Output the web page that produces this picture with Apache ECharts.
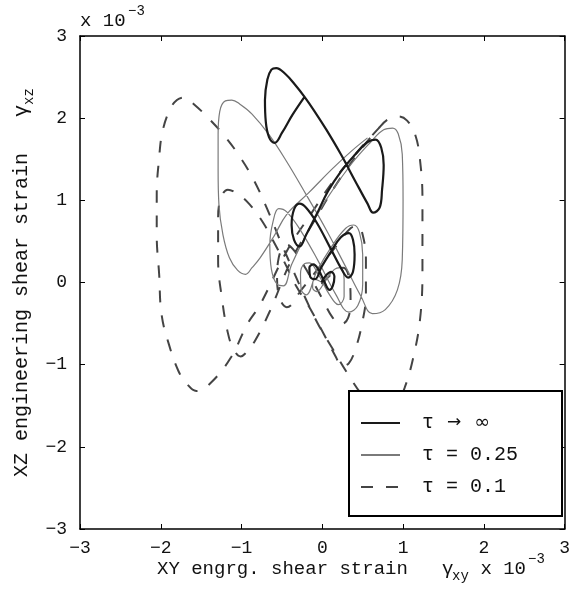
<!DOCTYPE html>
<html><head><meta charset="utf-8">
<script src="https://cdn.jsdelivr.net/npm/echarts@6/dist/echarts.min.js"></script>
<style>html,body{margin:0;padding:0;background:#fff}#c{width:573px;height:591px}</style>
</head><body><div id="c"></div>
<script>
// ---- data (units of 10^-3) ----
const seriesNames = ['τ → ∞', 'τ = 0.25', 'τ = 0.1'];
const axisTicks = [-3, -2, -1, 0, 1, 2, 3];

const infX = [-0.22,-0.37,-0.50,-0.59,-0.66,-0.70,-0.71,-0.68,-0.63,-0.57,-0.46,-0.34,-0.22,-0.10,0.05,0.23,0.41,0.56,0.63,0.71,0.74,0.76,0.73,0.66,0.56,0.41,0.23,0.07,-0.07,-0.20,-0.28,-0.35,-0.38,-0.35,-0.28,-0.20,-0.07,0.11,0.24,0.32,0.38,0.40,0.38,0.33,0.23,0.11,-0.01,-0.09,-0.15,-0.16,-0.11,-0.05,0.02,0.09,0.13,0.15,0.11,0.05,-0.01];
const infY = [2.26,2.04,1.82,1.70,1.77,1.96,2.22,2.47,2.59,2.61,2.54,2.41,2.26,2.09,1.86,1.56,1.23,0.96,0.85,0.91,1.13,1.43,1.64,1.74,1.71,1.56,1.35,1.11,0.83,0.58,0.44,0.52,0.70,0.89,0.96,0.91,0.73,0.40,0.16,0.06,0.13,0.34,0.52,0.60,0.55,0.38,0.19,0.04,0.07,0.18,0.22,0.16,0.02,-0.09,-0.04,0.07,0.13,0.09,0.00];

const q25X = [0.56,0.35,0.11,-0.17,-0.44,-0.60,-0.77,-0.87,-0.95,-1.05,-1.15,-1.23,-1.28,-1.29,-1.29,-1.27,-1.20,-1.12,-1.02,-0.87,-0.66,-0.44,-0.20,0.05,0.29,0.48,0.62,0.78,0.93,0.99,1.00,0.99,0.94,0.87,0.76,0.60,0.35,0.05,-0.20,-0.38,-0.48,-0.56,-0.63,-0.65,-0.61,-0.54,-0.44,-0.26,-0.05,0.17,0.33,0.44,0.50,0.50,0.46,0.39,0.29,0.11,-0.07,-0.20,-0.26,-0.27,-0.22,-0.16,-0.05,0.09,0.20,0.27,0.27,0.22,0.15,0.05,-0.07,-0.12,-0.10,0.00];
const q25Y = [1.76,1.59,1.37,1.09,0.83,0.56,0.30,0.18,0.10,0.15,0.30,0.58,0.95,1.37,1.80,2.08,2.21,2.22,2.17,2.05,1.80,1.47,1.07,0.64,0.19,-0.17,-0.38,-0.33,-0.09,0.28,1.01,1.56,1.81,1.88,1.86,1.71,1.43,1.01,0.58,0.22,-0.04,-0.02,0.16,0.46,0.74,0.90,0.86,0.62,0.26,-0.15,-0.36,-0.28,-0.02,0.34,0.61,0.70,0.66,0.43,0.13,-0.15,-0.09,0.10,0.23,0.24,0.10,-0.15,-0.27,-0.17,0.04,0.18,0.16,0.04,-0.11,-0.06,0.04,0.00];

const q10X = [0.72,0.48,0.17,-0.13,-0.44,-0.77,-0.93,-1.13,-1.38,-1.56,-1.68,-1.78,-1.90,-1.99,-2.02,-2.05,-2.05,-2.02,-1.98,-1.89,-1.80,-1.71,-1.59,-1.39,-1.20,-1.02,-0.85,-0.68,-0.50,-0.34,-0.20,-0.05,0.13,0.32,0.51,0.72,0.90,1.02,1.12,1.21,1.24,1.24,1.21,1.15,1.05,0.94,0.82,0.70,0.48,0.17,-0.13,-0.38,-0.65,-0.84,-0.96,-1.01,-1.10,-1.17,-1.24,-1.29,-1.29,-1.26,-1.17,-1.05,-0.90,-0.74,-0.61,-0.46,-0.32,-0.16,0.02,0.17,0.24,0.33,0.41,0.49,0.54,0.54,0.50,0.44,0.35,0.21,-0.01,-0.26,-0.44,-0.52,-0.56,-0.54,-0.44,-0.34,-0.20,-0.01,0.13,0.23,0.32,0.35,0.33,0.26,0.15,-0.01];
const q10Y = [1.90,1.64,1.28,0.85,0.38,-0.27,-0.51,-0.91,-1.22,-1.32,-1.23,-1.08,-0.75,-0.39,0.10,0.58,1.07,1.52,1.83,2.10,2.22,2.25,2.17,1.98,1.77,1.53,1.25,0.89,0.46,0.10,-0.21,-0.51,-0.81,-1.12,-1.39,-1.60,-1.54,-1.28,-0.94,-0.45,0.16,1.01,1.49,1.80,1.97,2.02,1.99,1.88,1.62,1.19,0.70,0.28,-0.35,-0.72,-0.87,-0.90,-0.81,-0.61,-0.21,0.28,0.77,1.01,1.13,1.08,0.95,0.74,0.51,0.23,-0.05,-0.30,-0.63,-0.91,-1.02,-0.98,-0.81,-0.51,-0.15,0.28,0.58,0.69,0.66,0.49,0.22,-0.09,-0.30,-0.21,0.04,0.30,0.46,0.38,0.16,-0.18,-0.43,-0.51,-0.43,-0.21,0.06,0.18,0.13,-0.02];

// ---- build ----
const zip = (xs, ys) => xs.map((x, i) => [x, ys[i]]);
const FONT = '"Liberation Mono", "DejaVu Sans Mono", monospace';
const tickFmt = v => (v < 0 ? '\u2212' : '') + Math.abs(v);

const axisCommon = {
  type: 'value', min: axisTicks[0], max: axisTicks[axisTicks.length - 1], interval: 1,
  axisLine: { show: true, onZero: false, lineStyle: { color: '#000', width: 1.5 } },
  axisTick: { show: true, inside: true, length: 5, lineStyle: { color: '#000', width: 1 } },
  splitLine: { show: false }
};
const labelStyle = { fontFamily: FONT, fontSize: 18, color: '#111', formatter: tickFmt };

const legendFmt = name => {
  if (name === seriesNames[0]) {
    const parts = name.split(' ');
    return '{g|' + parts[0] + ' }{a|' + parts[1] + '}{g| }{b|' + parts[2] + '}';
  }
  return '{g|' + name + '}';
};

const chart = echarts.init(document.getElementById('c'), null, { renderer: 'canvas' });
chart.setOption({
  animation: false,
  backgroundColor: '#fff',
  grid: { left: 80, top: 36, width: 492, height: 493, containLabel: false },
  xAxis: [
    Object.assign({}, axisCommon, { position: 'bottom', axisLabel: Object.assign({ margin: 10 }, labelStyle) }),
    Object.assign({}, axisCommon, { position: 'top', axisLabel: { show: false } })
  ],
  yAxis: [
    Object.assign({}, axisCommon, { position: 'left', axisLabel: Object.assign({ margin: 13 }, labelStyle) }),
    Object.assign({}, axisCommon, { position: 'right', axisLabel: { show: false } })
  ],
  legend: {
    orient: 'vertical', left: 349, top: 391,
    padding: [22, 44, 19, 11],
    itemWidth: 39, itemHeight: 14, itemGap: 12,
    backgroundColor: '#fff', borderColor: '#000', borderWidth: 2,
    selectedMode: false,
    itemStyle: { opacity: 0 },
    formatter: legendFmt,
    textStyle: {
      fontFamily: FONT, fontSize: 20, color: '#111', lineHeight: 20, padding: [0, 0, 0, 17],
      rich: {
        g: { fontFamily: FONT, fontSize: 20, color: '#111', lineHeight: 20 },
        a: { fontFamily: '"DejaVu Sans", sans-serif', fontSize: 17, color: '#111', lineHeight: 20, padding: [0, 1, 0, 1] },
        b: { fontFamily: '"DejaVu Sans", sans-serif', fontSize: 19, color: '#111', lineHeight: 20 }
      }
    },
    data: seriesNames
  },
  series: [
    { name: seriesNames[0], type: 'line', data: zip(infX, infY), smooth: 0.4, symbol: 'none',
      lineStyle: { color: '#1a1a1a', width: 2.2 }, itemStyle: { color: '#1a1a1a' }, z: 5 },
    { name: seriesNames[1], type: 'line', data: zip(q25X, q25Y), smooth: 0.4, symbol: 'none',
      lineStyle: { color: '#7a7a7a', width: 1.2 }, itemStyle: { color: '#7a7a7a' }, z: 4 },
    { name: seriesNames[2], type: 'line', data: zip(q10X, q10Y), smooth: 0.4, symbol: 'none',
      lineStyle: { color: '#444', width: 2, type: [12, 13] }, itemStyle: { color: '#444' }, z: 3 }
  ],
  graphic: [
    // top-left multiplier
    { type: 'text', x: 80, y: 21, style: { text: 'x 10', font: '19px ' + FONT, fill: '#111', verticalAlign: 'middle' } },
    { type: 'text', x: 128, y: 11, style: { text: '\u22123', font: '14px ' + FONT, fill: '#111', verticalAlign: 'middle' } },
    // x axis title
    { type: 'text', x: 157, y: 569, style: { text: 'XY engrg. shear strain   \u03b3', font: '19px ' + FONT, fill: '#111', verticalAlign: 'middle' } },
    { type: 'text', x: 452, y: 576, style: { text: 'xy', font: '14px ' + FONT, fill: '#111', verticalAlign: 'middle' } },
    { type: 'text', x: 469, y: 569, style: { text: ' x 10', font: '19px ' + FONT, fill: '#111', verticalAlign: 'middle' } },
    { type: 'text', x: 528, y: 559, style: { text: '\u22123', font: '14px ' + FONT, fill: '#111', verticalAlign: 'middle' } },
    // y axis title (rotated)
    { type: 'text', x: 22, y: 477, rotation: Math.PI / 2,
      style: { text: 'XZ engineering shear strain   \u03b3', font: '20px ' + FONT, fill: '#111', verticalAlign: 'middle', align: 'left' } },
    { type: 'text', x: 29, y: 105, rotation: Math.PI / 2,
      style: { text: 'xz', font: '14px ' + FONT, fill: '#111', verticalAlign: 'middle', align: 'left' } }
  ]
});
</script></body></html>
